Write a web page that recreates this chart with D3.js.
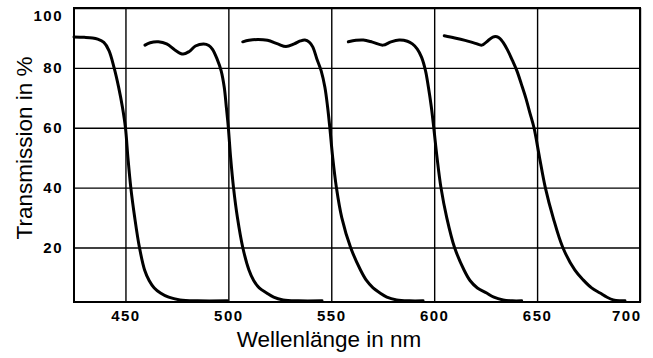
<!DOCTYPE html>
<html lang="de">
<head>
<meta charset="UTF-8"/>
<title>Transmission der Kantenfilter</title>
<script src="https://d3js.org/d3.v7.min.js"></script>
<style>
body { margin: 0; background: #fff; }
svg { display: block; }
</style>
</head>
<body>
<script>
// tick values
var xTicks = [450, 500, 550, 600, 650, 700];
var yTicks = [20, 40, 60, 80, 100];

// filter curves, [wavelength nm, transmission %]
var filter450 = [[425,90.3],[430,90.2],[434,90],[436.5,89.6],[439.5,88.5],[442,85.8],[444.5,80],[446.7,73.5],[448.5,67],[450,60],[451.2,50],[452.6,40],[454.5,30],[456.8,20],[459.3,12.5],[461.5,9],[464,6.5],[467,4.8],[471,3.4],[476.5,2.5],[485,2.2],[499.5,2.2]];
var filter500 = [[459.5,87.6],[462,88.4],[466,88.7],[470,88],[474,86],[478,84.6],[481,85.5],[484,87.3],[488,88],[490.5,87.5],[492.3,86.2],[494.5,83],[496.5,79],[498,73.5],[499,67],[500,60],[501.1,50],[502.5,40],[504.4,30],[507,20],[510,12.5],[512.3,9],[515,6.5],[518.6,4.8],[522,3.4],[526.6,2.5],[534,2.2],[545.5,2.2]];
var filter550 = [[507,88.7],[510,89.2],[514.4,89.5],[519,89.2],[524,88],[528,87.1],[532,88],[535,89],[537.2,89.3],[539.3,88.6],[541,87],[543,83],[545.1,79],[546.9,73.5],[548.2,67],[549.3,60],[550.7,50],[552.5,40],[555.1,30],[559.4,20],[564.2,12.5],[567.2,8.9],[570.3,6.5],[573.7,4.8],[577,3.4],[581.8,2.5],[588,2.2],[594.6,2.2]];
var filter600 = [[558.3,88.7],[562,89.2],[565.6,89.3],[570,88.6],[575.1,87.6],[579,88.7],[583,89.3],[587,88.9],[589.4,88],[591.8,86.3],[593.9,83.5],[595.8,79],[597.2,73.5],[598.6,67],[599.8,60],[601.4,50],[603.3,40],[606.1,30],[609.9,20],[614.5,12.5],[617.5,8.9],[621,6.5],[625.5,4.8],[629,3.4],[633.5,2.5],[638,2.2],[642.5,2.2]];
var filter650 = [[604.9,90.7],[610,90],[615,89.2],[620,88.2],[623.2,87.6],[626,89],[628.5,90.3],[630.5,90.4],[632,89.8],[633.5,88.5],[635.6,86],[638,82.5],[640.2,79],[642.4,74.5],[644.5,70],[646.5,65],[648.5,60],[651.2,50],[654,40],[657.8,30],[662.5,20],[668.3,12.5],[672.5,9.1],[676.5,6.5],[680.6,4.8],[684,3.4],[687,2.5],[690,2.2],[692.7,2.2]];

var filters = [filter450, filter500, filter550, filter600, filter650];

var w = 653;
var h = 358;
// plot box (window.top is reserved, so pTop etc.)
var pLeft = 74, pRight = 640, pTop = 8, pBottom = 302;

var x = d3.scaleLinear().domain([425, 700]).range([pLeft, pRight]);
var y = d3.scaleLinear().domain([1.8, 100]).range([pBottom, pTop]);

var svg = d3.select("body")
    .append("svg")
    .attr("width", w)
    .attr("height", h);

var tickFont = "'Liberation Sans', Arial, sans-serif";

// x axis with grid lines
var xAxis = svg.append("g")
    .attr("transform", "translate(0," + pBottom + ")")
    .call(d3.axisBottom(x)
        .tickValues(xTicks)
        .tickSize(-(pBottom - pTop))
        .tickPadding(8)
        .tickFormat(d3.format("d")));

// y axis with grid lines
var yAxis = svg.append("g")
    .attr("transform", "translate(" + pLeft + ",0)")
    .call(d3.axisLeft(y)
        .tickValues(yTicks)
        .tickSize(-(pRight - pLeft))
        .tickPadding(11)
        .tickFormat(d3.format("d")));

svg.selectAll(".domain").remove();
svg.selectAll(".tick line")
    .attr("stroke", "#000")
    .attr("stroke-width", 1.4);

svg.selectAll(".tick text")
    .attr("fill", "#000")
    .style("font-family", tickFont)
    .style("font-size", "15px")
    .style("font-weight", "bold")
    .style("letter-spacing", "1.5px");

// 700 sits inside the right edge, 100 a bit below the top
xAxis.selectAll(".tick text")
    .filter(function (d) { return d === 700; })
    .attr("text-anchor", "end")
    .attr("dx", "1px");
yAxis.selectAll(".tick text")
    .filter(function (d) { return d === 100; })
    .attr("dy", "0.8em");

// frame
svg.append("rect")
    .attr("x", pLeft)
    .attr("y", pTop)
    .attr("width", pRight - pLeft)
    .attr("height", pBottom - pTop)
    .attr("fill", "none")
    .attr("stroke", "#000")
    .attr("stroke-width", 2);

var line = d3.line()
    .x(function (d) { return x(d[0]); })
    .y(function (d) { return y(d[1]); })
    .curve(d3.curveCatmullRom.alpha(0.5));

svg.selectAll("path.filter")
    .data(filters)
    .enter()
    .append("path")
    .attr("class", "filter")
    .attr("d", line)
    .attr("fill", "none")
    .attr("stroke", "#000")
    .attr("stroke-width", 3)
    .attr("stroke-linejoin", "round")
    .attr("stroke-linecap", "round");

// axis titles
svg.append("text")
    .attr("x", 329)
    .attr("y", 347)
    .attr("text-anchor", "middle")
    .style("font-family", tickFont)
    .style("font-size", "22.5px")
    .text("Wellenlänge in nm");

svg.append("text")
    .attr("transform", "translate(32,148) rotate(-90)")
    .attr("text-anchor", "middle")
    .style("font-family", tickFont)
    .style("font-size", "22.5px")
    .text("Transmission in %");
</script>
</body>
</html>
